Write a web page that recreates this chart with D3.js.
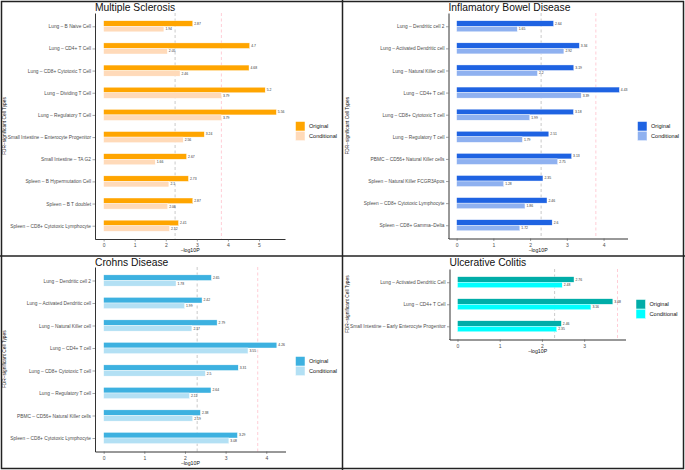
<!DOCTYPE html>
<html><head><meta charset="utf-8">
<script src="https://cdn.jsdelivr.net/npm/d3@7"></script>
<style>body{margin:0;background:#fff}svg{display:block;font-family:"Liberation Sans",Arial,sans-serif}</style>
</head><body><svg id="c" width="685" height="470"></svg>
<script>
// ---------- DATA ----------
const msCats = ["Lung – B Naive Cell","Lung – CD4+ T Cell","Lung – CD8+ Cytotoxic T Cell","Lung – Dividing T Cell","Lung – Regulatory T Cell","Small Intestine – Enterocyte Progenitor","Small Intestine – TA G2","Spleen – B Hypermutation Cell","Spleen – B T doublet","Spleen – CD8+ Cytotoxic Lymphocyte"];
const msOrig = [2.87,4.7,4.68,5.2,5.56,3.24,2.67,2.73,2.87,2.41];
const msCond = [1.94,2.05,2.46,3.79,3.79,2.56,1.66,2.1,2.06,2.12];
const msTicks = [0,1,2,3,4,5];

const ibdCats = ["Lung – Dendritic cell 2","Lung – Activated Dendritic cell","Lung – Natural Killer cell","Lung – CD4+ T cell","Lung – CD8+ Cytotoxic T cell","Lung – Regulatory T cell","PBMC – CD56+ Natural Killer cells","Spleen – Natural Killer FCGR3Apos","Spleen – CD8+ Cytotoxic Lymphocyte","Spleen – CD8+ Gamma–Delta"];
const ibdOrig = [2.64,3.34,3.19,4.43,3.18,2.51,3.13,2.35,2.46,2.6];
const ibdCond = [1.65,2.92,2.2,3.39,1.99,1.79,2.75,1.28,1.86,1.72];
const ibdTicks = [0,1,2,3,4];

const cdCats = ["Lung – Dendritic cell 2","Lung – Activated Dendritic cell","Lung – Natural Killer cell","Lung – CD4+ T cell","Lung – CD8+ Cytotoxic T cell","Lung – Regulatory T cell","PBMC – CD56+ Natural Killer cells","Spleen – CD8+ Cytotoxic Lymphocyte"];
const cdOrig = [2.65,2.42,2.79,4.26,3.31,2.64,2.38,3.29];
const cdCond = [1.78,1.99,2.17,3.55,2.5,2.11,2.19,3.08];
const cdTicks = [0,1,2,3,4];

const ucCats = ["Lung – Activated Dendritic Cell","Lung – CD4+ T Cell","Small Intestine – Early Enterocyte Progenitor"];
const ucOrig = [2.76,3.68,2.46];
const ucCond = [2.48,3.16,2.35];
const ucTicks = [0,1,2,3];

const seriesNames = ["Original","Conditional"];
const thresholds = [2.3, 3.79];

// ---------- LAYOUT / STYLE ----------
const panels = [
  {title:"Multiple Sclerosis", cats:msCats, orig:msOrig, cond:msCond, ticks:msTicks,
   colors:["#FFA500","#FFDAB9"], axisL:95, axisR:285, top:13, bottom:239, titleY:10.5,
   ytX:4.5, legX:295.5, legY:121.5},
  {title:"Inflamatory Bowel Disease", cats:ibdCats, orig:ibdOrig, cond:ibdCond, ticks:ibdTicks,
   colors:["#1F63E2","#8FB1F0"], axisL:448.5, axisR:627.5, top:13, bottom:238.5, titleY:10.5,
   ytX:347, legX:637.5, legY:121.5},
  {title:"Crohns Disease", cats:cdCats, orig:cdOrig, cond:cdCond, ticks:cdTicks,
   colors:["#3DB1E0","#B3E0F4"], axisL:95, axisR:285.5, top:267, bottom:451.5, titleY:265.5,
   ytX:4.5, legX:295.5, legY:356.5},
  {title:"Ulcerative Colitis", cats:ucCats, orig:ucOrig, cond:ucCond, ticks:ucTicks,
   colors:["#00ADA8","#00FFFF"], axisL:449.5, axisR:625.5, top:269, bottom:339.5, titleY:265.5,
   ytX:347, legX:636, legY:299.5}
];

const svg = d3.select("#c");
svg.append("rect").attr("width",685).attr("height",470).attr("fill","#fff");

panels.forEach(p => {
  const g = svg.append("g");
  const m = Math.max(d3.max(p.orig), thresholds[1]);
  const x = d3.scaleLinear().domain([-0.05*m, 1.05*m]).range([p.axisL, p.axisR]);
  const y = d3.scalePoint().domain(p.cats).range([p.top, p.bottom]).padding(0.6);
  const h = y.step()*0.25;

  thresholds.forEach((t,i) => {
    g.append("line").attr("x1",x(t)).attr("x2",x(t)).attr("y1",p.top).attr("y2",p.bottom)
      .attr("stroke", i===0 ? "#bdbdbd" : "#ffc0cb").attr("stroke-width",0.8)
      .attr("stroke-dasharray","3,2.5");
  });

  const rows = p.cats.map((c,i)=>({c, o:p.orig[i], k:p.cond[i]}));
  [["o",0],["k",1]].forEach(([key,si]) => {
    g.selectAll(null).data(rows).enter().append("rect")
      .attr("x", x(0))
      .attr("y", d => y(d.c) - h + si*h)
      .attr("width", d => x(d[key]) - x(0))
      .attr("height", h)
      .attr("fill", p.colors[si]).attr("stroke","#fff").attr("stroke-width",0.4);
    g.selectAll(null).data(rows).enter().append("text")
      .attr("x", d => x(d[key]) + 1.5)
      .attr("y", d => y(d.c) - h/2 + si*h)
      .attr("dy","0.35em").attr("font-size",3.4).attr("fill","#333")
      .text(d => d[key]);
  });

  const xa = g.append("g").attr("transform",`translate(0,${p.bottom})`)
    .call(d3.axisBottom(x).tickValues(p.ticks).tickSize(2.5).tickSizeOuter(0).tickPadding(2).tickFormat(d3.format("d")));
  const ya = g.append("g").attr("transform",`translate(${p.axisL},0)`)
    .call(d3.axisLeft(y).tickSize(2.5).tickSizeOuter(0).tickPadding(1.5));
  [xa,ya].forEach(a => {
    a.select(".domain").attr("stroke","#333").attr("stroke-width",1);
    a.selectAll(".tick line").attr("stroke","#444").attr("stroke-width",0.5);
    a.selectAll("text").attr("fill","#4d4d4d").attr("font-family","Liberation Sans, Arial, sans-serif");
  });
  xa.selectAll("text").attr("font-size",5);
  ya.selectAll("text").attr("font-size",4.8);
  g.append("line").attr("x1",p.axisL).attr("x2",p.axisL+0.5).attr("y1",p.bottom).attr("y2",p.bottom).attr("stroke","#333");

  g.append("text").attr("x",p.axisL).attr("y",p.titleY).attr("font-size",10.3).attr("fill","#111").text(p.title);
  g.append("text").attr("x",(p.axisL+p.axisR)/2).attr("y",p.bottom+13).attr("text-anchor","middle")
    .attr("font-size",5.2).attr("fill","#111").text("−log10P");
  g.append("text").attr("transform",`translate(${p.ytX},${(p.top+p.bottom)/2}) rotate(-90)`)
    .attr("text-anchor","middle").attr("dy","0.35em").attr("font-size",4.8).attr("fill","#111")
    .text("FDR−significant Cell Types");

  seriesNames.forEach((s,i) => {
    g.append("rect").attr("x",p.legX).attr("y",p.legY+i*9.7).attr("width",9.5).attr("height",9.5)
      .attr("fill",p.colors[i]).attr("stroke","#fff").attr("stroke-width",0.5);
    g.append("text").attr("x",p.legX+13.5).attr("y",p.legY+i*9.7+4.8).attr("dy","0.35em")
      .attr("font-size",5.6).attr("fill","#111").text(s);
  });
});

svg.append("rect").attr("x",1.5).attr("y",1.5).attr("width",682).attr("height",467)
  .attr("fill","none").attr("stroke","#222").attr("stroke-width",1.5);
svg.append("line").attr("x1",342.5).attr("x2",342.5).attr("y1",0).attr("y2",470).attr("stroke","#222").attr("stroke-width",1.5);
svg.append("line").attr("x1",0).attr("x2",685).attr("y1",256).attr("y2",256).attr("stroke","#222").attr("stroke-width",1.5);
</script></body></html>
